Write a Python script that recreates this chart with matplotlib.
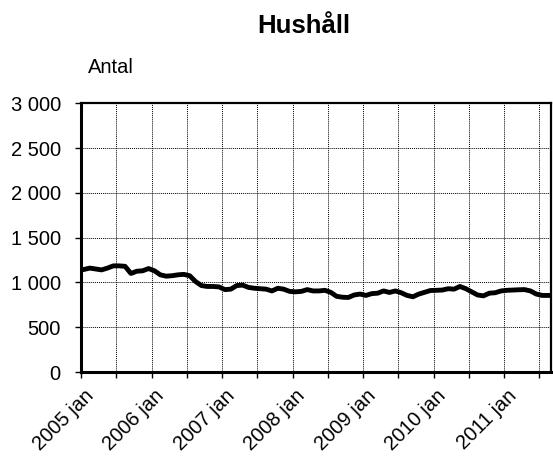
import numpy as np
import matplotlib as mpl
from matplotlib import pyplot as plt

# Data (monthly, 2005 jan - 2011 aug)
years = [2005, 2006, 2007, 2008, 2009, 2010, 2011]
hushall = [1145, 1160, 1150, 1140, 1160, 1185, 1185, 1180, 1100, 1125,
           1130, 1155, 1130, 1085, 1070, 1075, 1085, 1090, 1075, 1010,
           965, 955, 955, 950, 920, 925, 965, 970, 945, 935,
           930, 925, 905, 935, 925, 900, 895, 900, 920, 905,
           905, 912, 890, 845, 835, 832, 860, 870, 855, 875,
           880, 905, 888, 905, 885, 855, 840, 870, 890, 910,
           912, 915, 930, 925, 955, 930, 895, 860, 850, 880,
           885, 905, 912, 915, 918, 920, 905, 870, 855, 855]
y_ticks = [0, 500, 1000, 1500, 2000, 2500, 3000]

plt.rcParams['font.family'] = ['Liberation Sans', 'DejaVu Sans']

fig = plt.figure(figsize=(5.53, 4.57), dpi=100)
ax = fig.add_axes([81/553, 1-372/457, 470/553, (372-103.3)/457])

x = np.arange(len(hushall))
ax.plot(x, hushall, color='black', lw=3.5, solid_joinstyle='round')

ax.set_xlim(-0.5, len(hushall) - 0.5)
ax.set_ylim(0, 3000)

# tick marks and grid on category boundaries every 6 months
ax.set_xticks(np.arange(-0.5, len(hushall), 6))
ax.set_xticklabels([])
ax.set_xticks(np.arange(0, len(hushall), 12), minor=True)
ax.set_xticklabels(['%d jan' % y for y in years], minor=True,
                   rotation=45, ha='right', va='top', rotation_mode='anchor',
                   fontsize=14.5)
ax.tick_params(axis='x', which='minor', length=0, pad=10)
ax.tick_params(axis='x', which='major', length=4.5, width=1, direction='out')

ax.set_yticks(y_ticks)
ax.set_yticklabels(['{:,}'.format(v).replace(',', ' ') for v in y_ticks], fontsize=14.5)
ax.tick_params(axis='y', length=4.5, width=1, direction='out', pad=10)

ax.grid(True, which='major', color='black', ls=(0, (1, 1)), lw=0.7)

for s in ['left', 'bottom']:
    ax.spines[s].set_linewidth(2.2)
for s in ['top', 'right']:
    ax.spines[s].set_linewidth(1.6)

fig.text(303.5/553, 1-32.7/457, 'Hushåll', ha='center', va='baseline',
         fontsize=18.5, fontweight='bold')
fig.text(88/553, 1-73/457, 'Antal', ha='left', va='baseline', fontsize=14.5)

fig.savefig('out.png', dpi=100)
